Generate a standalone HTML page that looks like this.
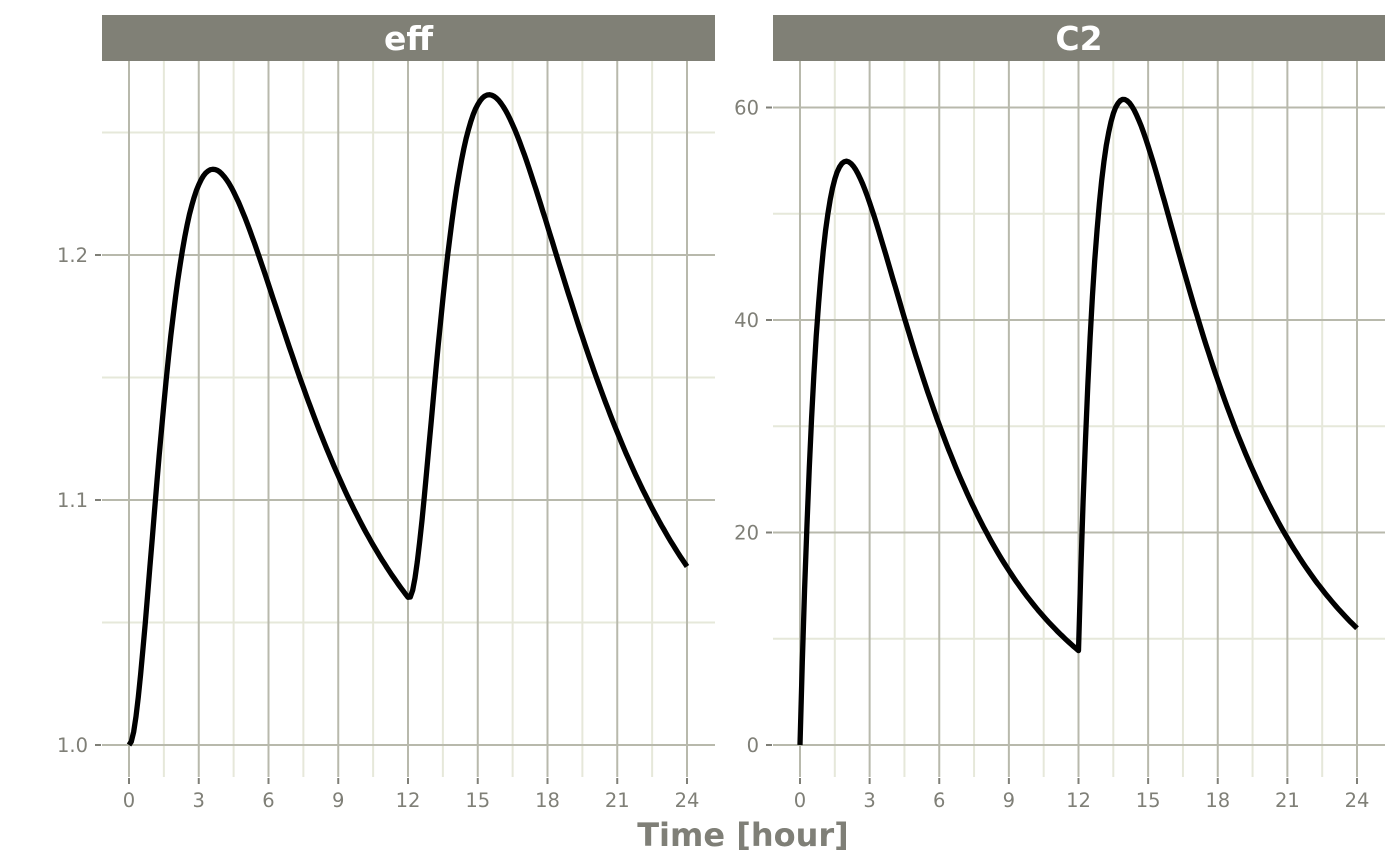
<!DOCTYPE html>
<html><head><meta charset="utf-8"><style>
html,body{margin:0;padding:0;background:#fff;}
svg{display:block;font-family:"DejaVu Sans","Liberation Sans",sans-serif;}
</style></head><body>
<svg id="s" width="1400" height="865" xmlns="http://www.w3.org/2000/svg"></svg>
<script>
const S=document.getElementById('s');let h='';
const MAJ='#b8b9ac',MIN='#e6e8da',TXT='#7f7f77';
function C(t){let ka=1.0,c=0;for(const [d,ke,A] of [[0,0.205,104],[12,0.19,100]]){if(t>=d){const u=t-d;c+=A*(Math.exp(-ke*u)-Math.exp(-ka*u));}}return c;}
const N=2400,dt=24/N;let R=1,kout=0.78,Rs=[1];
for(let i=0;i<N;i++){const t=i*dt;R+=dt*kout*(C(t)-(R-1));Rs.push(R);}
let pk=0;for(let i=0;i<=N/2;i++)pk=Math.max(pk,Rs[i]-1);
const sc=0.235/pk;
function panel(x0,x1,title,yv,ymaj,ymin,lab,fn){
 const X=t=>x0+27+t*(x1-x0-55)/24;
 h+=`<rect x="${x0}" y="15" width="${x1-x0}" height="46" fill="#808076"/>`;
 h+=`<text x="${(x0+x1)/2}" y="50" fill="#fff" font-size="33" font-weight="bold" text-anchor="middle">${title}</text>`;
 for(let t=1.5;t<24;t+=3)h+=`<line x1="${X(t)}" x2="${X(t)}" y1="61" y2="777" stroke="${MIN}" stroke-width="2"/>`;
 for(const v of ymin)h+=`<line x1="${x0}" x2="${x1}" y1="${yv(v)}" y2="${yv(v)}" stroke="${MIN}" stroke-width="2"/>`;
 for(let t=0;t<=24;t+=3){h+=`<line x1="${X(t)}" x2="${X(t)}" y1="61" y2="777" stroke="${MAJ}" stroke-width="2"/>`;
  h+=`<line x1="${X(t)}" x2="${X(t)}" y1="778" y2="784" stroke="${TXT}" stroke-width="2"/>`;
  h+=`<text x="${X(t)}" y="807" fill="${TXT}" font-size="19.5" text-anchor="middle">${t}</text>`;}
 ymaj.forEach((v,i)=>{const y=yv(v);h+=`<line x1="${x0}" x2="${x1}" y1="${y}" y2="${y}" stroke="${MAJ}" stroke-width="2"/>`;
  h+=`<line x1="${x0-7}" x2="${x0-1}" y1="${y}" y2="${y}" stroke="${TXT}" stroke-width="2"/>`;
  h+=`<text x="${x0-14}" y="${y+7}" fill="${TXT}" font-size="19.5" text-anchor="end">${lab[i]}</text>`;});
 let p='';for(let i=0;i<=240;i++){const t=i*0.1;p+=(i?'L':'M')+X(t).toFixed(1)+','+yv(fn(t,i)).toFixed(1);}
 h+=`<path d="${p}" fill="none" stroke="#000" stroke-width="5.3" stroke-linejoin="round"/>`;
}
panel(102,715,'eff',v=>745-(v-1)*2450,[1,1.1,1.2],[1.05,1.15,1.25],['1.0','1.1','1.2'],(t,i)=>1+sc*(Rs[i*10]-1));
panel(773,1385,'C2',v=>745-v*10.625,[0,20,40,60],[10,30,50],['0','20','40','60'],t=>C(t));
h+=`<text x="743" y="846" fill="${TXT}" font-size="32" font-weight="bold" text-anchor="middle">Time [hour]</text>`;
S.innerHTML=h;
</script>
</body></html>
